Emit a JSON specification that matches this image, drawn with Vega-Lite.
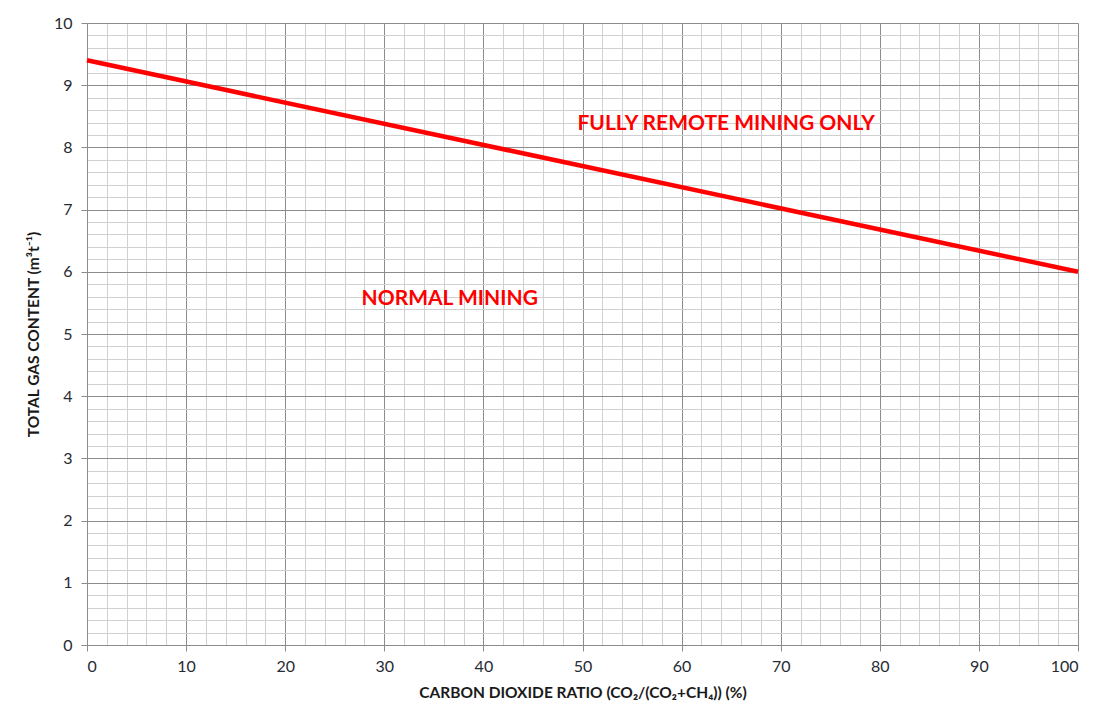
{
  "$schema": "https://vega.github.io/schema/vega-lite/v6.json",
  "width": 991,
  "height": 622,
  "autosize": {"type": "none"},
  "padding": {"left": 87, "top": 23, "right": 20, "bottom": 75},
  "background": "white",
  "config": {
    "view": {"stroke": null},
    "font": "Lato",
    "axis": {"labelFont": "Lato", "titleFont": "Lato"}
  },
  "datasets": {
    "line": [
      {"ratio": 0, "gas": 9.4},
      {"ratio": 100, "gas": 6.0}
    ],
    "labels": [
      {"ratio": 64.5, "gas": 8.38, "label": "FULLY REMOTE MINING ONLY"},
      {"ratio": 36.6, "gas": 5.56, "label": "NORMAL MINING"}
    ]
  },
  "resolve": {"axis": {"x": "independent", "y": "independent"}},
  "layer": [
    {
      "data": {"name": "line"},
      "mark": {"type": "line", "strokeOpacity": 0},
      "encoding": {
        "x": {"field": "ratio", "type": "quantitative", "scale": {"domain": [0, 100], "nice": false},
          "axis": {"orient": "bottom", "values": [0,2,4,6,8,10,12,14,16,18,20,22,24,26,28,30,32,34,36,38,40,42,44,46,48,50,52,54,56,58,60,62,64,66,68,70,72,74,76,78,80,82,84,86,88,90,92,94,96,98,100],
            "grid": true, "gridColor": "#d0d0d0", "gridWidth": 1, "labels": false, "ticks": false, "domain": false, "title": null}},
        "y": {"field": "gas", "type": "quantitative", "scale": {"domain": [0, 10], "nice": false, "zero": true},
          "axis": {"orient": "left", "values": [0,0.2,0.4,0.6,0.8,1,1.2,1.4,1.6,1.8,2,2.2,2.4,2.6,2.8,3,3.2,3.4,3.6,3.8,4,4.2,4.4,4.6,4.8,5,5.2,5.4,5.6,5.8,6,6.2,6.4,6.6,6.8,7,7.2,7.4,7.6,7.8,8,8.2,8.4,8.6,8.8,9,9.2,9.4,9.6,9.8,10],
            "grid": true, "gridColor": "#d0d0d0", "gridWidth": 1, "labels": false, "ticks": false, "domain": false, "title": null}}
      }
    },
    {
      "data": {"name": "line"},
      "mark": {"type": "line", "color": "#ff0000", "strokeWidth": 4.5},
      "encoding": {
        "x": {"field": "ratio", "type": "quantitative", "scale": {"domain": [0, 100], "nice": false},
          "axis": {"orient": "bottom", "values": [0,10,20,30,40,50,60,70,80,90,100],
            "grid": true, "gridColor": "#8c8c8c", "gridWidth": 1,
            "domain": true, "domainColor": "#8c8c8c", "domainWidth": 1,
            "ticks": true, "tickColor": "#8c8c8c", "tickSize": 6,
            "labelFontSize": 16, "labelColor": "#262b33", "labelPadding": 7,
            "title": "CARBON DIOXIDE RATIO (CO₂/(CO₂+CH₄)) (%)",
            "titleFontSize": 15.5, "titleFontWeight": "bold", "titleColor": "#1a1a1a", "titlePadding": 11}},
        "y": {"field": "gas", "type": "quantitative", "scale": {"domain": [0, 10], "nice": false, "zero": true},
          "axis": {"orient": "left", "values": [0,1,2,3,4,5,6,7,8,9,10],
            "grid": true, "gridColor": "#8c8c8c", "gridWidth": 1,
            "domain": true, "domainColor": "#8c8c8c", "domainWidth": 1,
            "ticks": true, "tickColor": "#8c8c8c", "tickSize": 6,
            "labelFontSize": 16, "labelColor": "#262b33", "labelPadding": 9,
            "title": "TOTAL GAS CONTENT (m³t⁻¹)",
            "titleFontSize": 15.5, "titleFontWeight": "bold", "titleColor": "#1a1a1a", "titlePadding": 12}}
      }
    },
    {
      "data": {"name": "labels"},
      "mark": {"type": "text", "color": "#ff0000", "fontSize": 21, "fontWeight": "bold", "font": "Lato", "align": "center", "baseline": "middle"},
      "encoding": {
        "x": {"field": "ratio", "type": "quantitative", "axis": null},
        "y": {"field": "gas", "type": "quantitative", "axis": null},
        "text": {"field": "label"}
      }
    }
  ]
}
